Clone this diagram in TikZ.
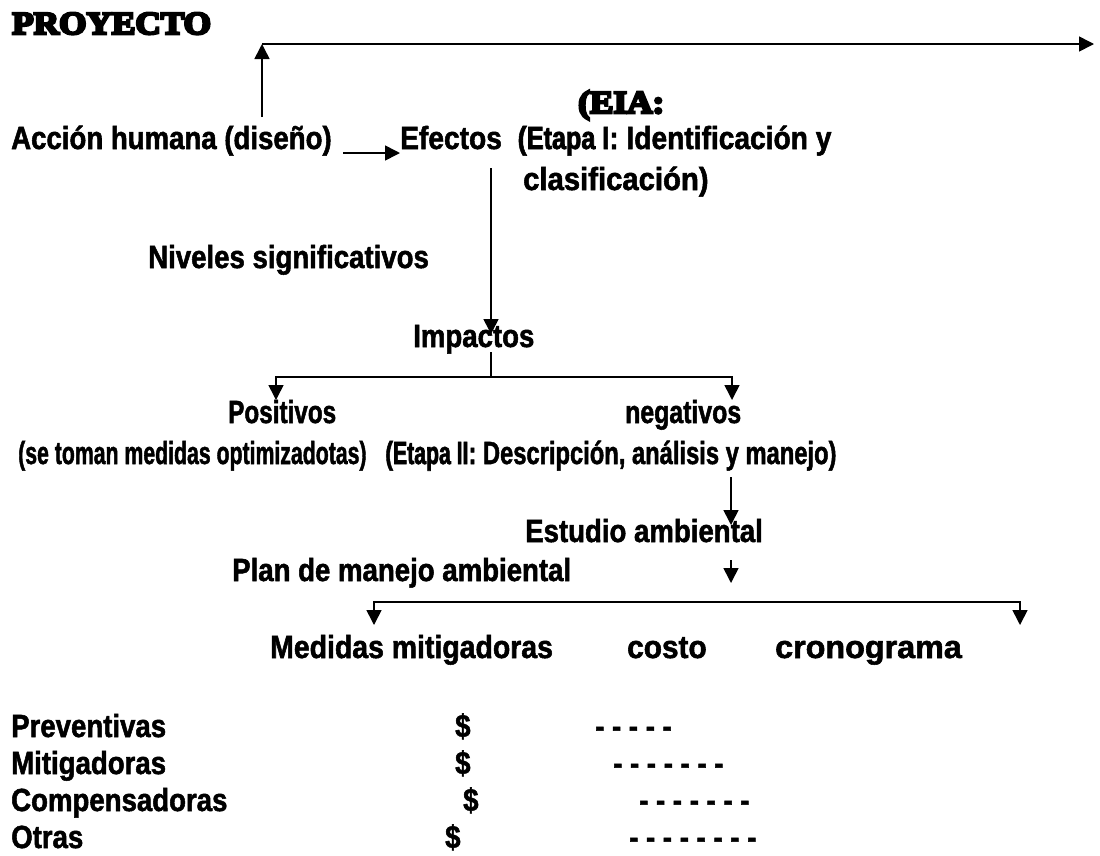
\documentclass[tikz,border=0pt]{standalone}
\usepackage{fontspec}
\usepackage{graphicx}
\setmainfont{Liberation Sans}[FakeStretch=0.8625,FakeBold=1.6]
\newfontfamily\etfont{Liberation Sans}[FakeStretch=0.77,FakeBold=2.2]
\newfontfamily\serfont{Liberation Serif}[FakeStretch=1.1,FakeBold=8]
\usetikzlibrary{arrows.meta}
\newcommand\sx[2]{\scalebox{#1}[1]{#2}}
\begin{document}
\begin{tikzpicture}[x=1pt,y=-1pt,
  txt/.style={anchor=base west,inner sep=0pt,font=\fontsize{32}{38}\selectfont\bfseries},
  ln/.style={line width=1.6pt},
  arr/.style={ln,-{Triangle[width=15pt,length=15pt]}}]
\fill[white] (0,0) rectangle (1100,855);
\useasboundingbox (0,0) rectangle (1100,855);
% texts
\node[txt] (proy) at (12,34) {\serfont\bfseries PROYECTO};
\node[txt] (eia) at (578,113) {\serfont\bfseries (EIA:};
\node[txt] (acc) at (11,149) {Acción humana (diseño)};
\node[txt] (efe) at (400,149) {\sx{1.02}{Efectos\ \ ({\etfont\bfseries Etapa I}: Identificación y}};
\node[txt] (clas) at (523,190) {\sx{1.06}{clasificación)}};
\node[txt] (niv) at (148,268) {Niveles significativos};
\node[txt] (imp) at (413,347) {Impactos};
\node[txt] (pos) at (228,423) {\sx{0.88}{Positivos}};
\node[txt] (posd) at (18,464) {\sx{0.77}{(se toman medidas optimizadotas)}};
\node[txt] (neg) at (625,423) {\sx{0.9}{negativos}};
\node[txt] (negd) at (385,464) {\sx{0.86}{({\etfont\bfseries Etapa II}: Descripción, análisis y manejo)}};
\node[txt] (est) at (525,542) {Estudio ambiental};
\node[txt] (plan) at (232,581) {Plan de manejo ambiental};
\node[txt] (med) at (270,658) {\sx{1.03}{Medidas mitigadoras}};
\node[txt] (cos) at (627,658) {\sx{1.08}{costo}};
\node[txt] (cro) at (775,658) {\sx{1.17}{cronograma}};
\node[txt] (r1) at (11,737) {Preventivas};
\node[txt] (r2) at (11,774) {Mitigadoras};
\node[txt] (r3) at (11,811) {Compensadoras};
\node[txt] (r4) at (11,848) {Otras};
\node[txt] (d1) at (455,737) {\$};
\node[txt] (d2) at (455,774) {\$};
\node[txt] (d3) at (463,811) {\$};
\node[txt] (d4) at (445,848) {\$};
\node[txt] (s1) at (595,737) {- - - - -};
\node[txt] (s2) at (613,774) {- - - - - - -};
\node[txt] (s3) at (639,811) {- - - - - - -};
\node[txt] (s4) at (629,848) {- - - - - - - -};
% connector points
\coordinate (up0) at (262,117);
\coordinate (up1) at (262,44);
\coordinate (top1) at (1094,44);
\coordinate (h0) at (343,153);
\coordinate (h1) at (400,153);
\coordinate (v0) at (491,168);
\coordinate (v1) at (491,334);
\coordinate (i0) at (491,352);
\coordinate (i1) at (491,377);
\coordinate (pL) at (276,400);
\coordinate (pR) at (732,400);
\coordinate (n0) at (731,477);
\coordinate (n1) at (731,525);
\coordinate (e0) at (731,560);
\coordinate (e1) at (731,583);
\coordinate (b0) at (731,602);
\coordinate (mL) at (374,625);
\coordinate (mR) at (1020,625);
% connectors
\draw[arr] (up0) -- (up1);
\draw[arr] (up1) -- (top1);
\draw[arr] (h0) -- (h1);
\draw[arr] (v0) -- (v1);
\draw[ln] (i0) -- (i1);
\draw[arr] (i1) -| (pL);
\draw[arr] (i1) -| (pR);
\draw[arr] (n0) -- (n1);
\draw[arr] (e0) -- (e1);
\draw[arr] (b0) -| (mL);
\draw[arr] (b0) -| (mR);
\end{tikzpicture}
\end{document}
